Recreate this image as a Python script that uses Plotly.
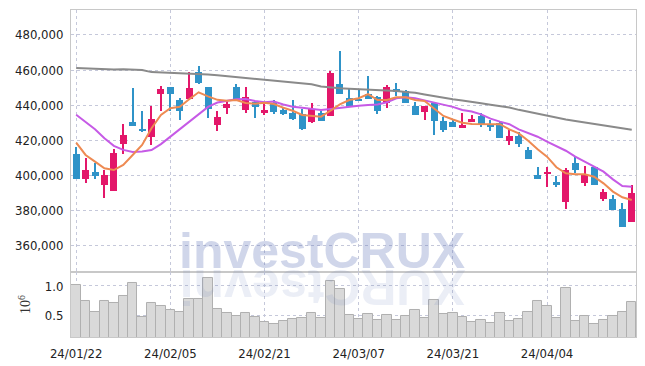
import numpy as np
import plotly.graph_objects as go

# ---------------- data ----------------
dates = ["2024-01-22", "2024-01-23", "2024-01-24", "2024-01-25", "2024-01-26",
         "2024-01-29", "2024-01-30", "2024-01-31", "2024-02-01", "2024-02-02",
         "2024-02-05", "2024-02-06", "2024-02-07", "2024-02-08", "2024-02-13",
         "2024-02-14", "2024-02-15", "2024-02-16", "2024-02-19", "2024-02-20",
         "2024-02-21", "2024-02-22", "2024-02-23", "2024-02-26", "2024-02-27",
         "2024-02-28", "2024-02-29", "2024-03-04", "2024-03-05", "2024-03-06",
         "2024-03-07", "2024-03-08", "2024-03-11", "2024-03-12", "2024-03-13",
         "2024-03-14", "2024-03-15", "2024-03-18", "2024-03-19", "2024-03-20",
         "2024-03-21", "2024-03-22", "2024-03-25", "2024-03-26", "2024-03-27",
         "2024-03-28", "2024-03-29", "2024-04-01", "2024-04-02", "2024-04-03",
         "2024-04-04", "2024-04-05", "2024-04-08", "2024-04-09", "2024-04-11",
         "2024-04-12", "2024-04-15", "2024-04-16", "2024-04-17", "2024-04-18"]

tick_dates = ["2024-01-22", "2024-02-05", "2024-02-21", "2024-03-07", "2024-03-21", "2024-04-04"]
tick_labels = ["24/01/22", "24/02/05", "24/02/21", "24/03/07", "24/03/21", "24/04/04"]

# prices in thousands of won
open_k = [412.1, 397.8, 401.7, 394.6, 391.2, 417.7, 430.4, 426.6, 422.0, 446.5,
          450.3, 442.9, 443.5, 458.7, 450.5, 428.9, 438.5, 450.3, 437.4, 441.8,
          435.5, 441.4, 437.0, 435.7, 434.9, 430.2, 435.3, 434.0, 452.3, 444.1,
          443.5, 446.2, 444.6, 441.4, 449.0, 448.0, 439.5, 436.3, 441.0, 431.0,
          430.4, 427.1, 430.3, 433.8, 429.4, 430.0, 419.7, 422.4, 414.4, 400.2,
          401.1, 396.4, 385.0, 406.8, 395.4, 404.9, 386.7, 386.3, 380.8, 373.2]
close_k = [398.1, 403.0, 399.8, 400.2, 412.5, 423.0, 428.3, 425.8, 431.9, 449.2,
           446.5, 436.8, 449.6, 452.8, 437.8, 433.2, 440.6, 442.2, 444.6, 439.0,
           437.5, 436.3, 434.9, 432.3, 426.4, 437.6, 431.1, 458.3, 446.5, 438.9,
           442.3, 443.5, 436.8, 450.3, 447.3, 441.1, 434.4, 439.5, 431.0, 425.8,
           427.7, 428.7, 432.1, 429.1, 427.7, 421.0, 422.4, 417.8, 409.3, 398.1,
           402.1, 394.2, 403.0, 403.0, 400.2, 394.6, 390.5, 380.2, 370.7, 389.7]
high_k = [416.0, 409.7, 407.2, 403.0, 414.8, 429.2, 449.6, 436.8, 439.7, 450.9,
          450.5, 443.9, 458.7, 462.5, 450.5, 436.8, 442.9, 451.9, 450.5, 442.4,
          441.0, 442.9, 438.5, 442.8, 437.6, 441.4, 436.8, 459.6, 471.0, 449.0,
          449.2, 456.6, 445.2, 451.5, 452.4, 448.6, 441.6, 439.7, 441.4, 433.1,
          432.3, 435.7, 434.5, 435.3, 431.5, 430.5, 425.8, 424.5, 416.3, 404.6,
          404.9, 399.6, 404.3, 410.6, 405.5, 405.3, 392.0, 388.6, 384.0, 394.5]
low_k = [398.1, 395.8, 397.7, 387.0, 391.2, 412.0, 428.3, 424.9, 417.1, 436.8,
         436.8, 431.5, 443.5, 451.9, 432.5, 425.1, 434.9, 442.2, 435.5, 432.7,
         434.5, 434.9, 434.2, 431.5, 425.9, 429.6, 431.1, 434.0, 446.5, 438.9,
         442.3, 443.5, 435.0, 438.5, 445.2, 441.1, 434.4, 431.5, 422.8, 424.9,
         427.5, 427.1, 430.3, 427.7, 425.4, 421.0, 417.0, 416.3, 409.3, 398.1,
         393.2, 393.2, 380.6, 401.5, 393.9, 394.6, 385.4, 380.2, 370.7, 373.2]

ma_short_k = [418.6, 411.6, 407.8, 404.0, 403.0, 405.9, 411.6, 417.3, 426.8, 434.4,
              438.2, 439.1, 443.3, 447.3, 445.0, 443.0, 442.5, 442.9, 441.2, 440.8,
              441.4, 440.6, 438.5, 436.8, 434.4, 433.8, 433.4, 436.8, 440.4, 442.9,
              443.9, 446.3, 442.9, 442.9, 444.5, 444.5, 442.9, 442.3, 438.2, 433.8,
              431.8, 430.0, 429.2, 429.1, 429.2, 429.1, 426.2, 423.9, 419.7, 414.8,
              410.6, 404.6, 401.1, 400.6, 400.6, 399.2, 395.4, 390.7, 387.5, 385.9]
ma_mid_k = [434.5, 430.6, 426.2, 421.1, 416.8, 414.5, 413.3, 413.5, 414.4, 417.8,
            422.0, 426.2, 430.3, 435.0, 439.0, 441.5, 442.3, 443.3, 443.5, 442.3,
            441.6, 442.0, 440.4, 439.1, 438.5, 437.8, 437.2, 437.8, 438.5, 439.1,
            439.7, 440.1, 440.4, 441.6, 443.9, 444.5, 443.9, 442.7, 441.6, 440.2,
            439.0, 437.2, 436.3, 434.7, 432.3, 430.6, 429.1, 426.2, 423.9, 422.0,
            419.2, 416.7, 414.0, 410.6, 407.8, 405.3, 402.1, 397.7, 393.9, 393.5]
ma_long_k = [461.2, 461.0, 460.8, 460.3, 460.3, 460.5, 460.4, 460.0, 458.8, 458.6,
             458.5, 458.3, 458.1, 458.0, 457.4, 457.0, 456.5, 456.0, 455.5, 455.2,
             454.8, 454.3, 453.8, 453.2, 452.6, 451.9, 450.6, 450.0, 449.6, 449.3,
             449.1, 448.9, 448.6, 448.3, 448.0, 447.5, 447.0, 446.0, 445.0, 444.2,
             443.3, 442.6, 442.0, 441.0, 440.2, 439.5, 438.6, 437.3, 436.2, 435.0,
             433.6, 432.6, 431.8, 431.0, 430.2, 429.4, 428.5, 427.6, 426.6, 425.9]

# volume in millions of shares
volume_m = [1.02, 0.74, 0.55, 0.75, 0.71, 0.83, 1.05, 0.46, 0.71, 0.66,
            0.59, 0.55, 0.77, 0.77, 1.13, 0.61, 0.53, 0.48, 0.53, 0.46,
            0.38, 0.34, 0.39, 0.43, 0.44, 0.53, 0.44, 1.09, 0.94, 0.50,
            0.43, 0.52, 0.41, 0.50, 0.41, 0.48, 0.59, 0.44, 0.76, 0.52,
            0.53, 0.46, 0.38, 0.41, 0.36, 0.53, 0.40, 0.43, 0.55, 0.74,
            0.65, 0.44, 0.96, 0.40, 0.49, 0.34, 0.41, 0.49, 0.55, 0.72]

# ---------------- styling ----------------
UP = "#e3176a"
DOWN = "#2f93c8"
GRID = "#c5c8da"
AXIS = "#c8c8c8"
TICKFONT = dict(family="DejaVu Sans Condensed, Liberation Sans Narrow, sans-serif",
                size=13, color="#222222")

o = np.array(open_k) * 1000
c = np.array(close_k) * 1000
h = np.array(high_k) * 1000
l = np.array(low_k) * 1000
colors = [UP if cc >= oo else DOWN for oo, cc in zip(o, c)]
body_base = np.minimum(o, c)
body_len = np.maximum(np.abs(c - o), 500)

fig = go.Figure()

# moving averages
fig.add_trace(go.Scatter(x=dates, y=np.array(ma_long_k) * 1000, mode="lines",
                         line=dict(color="#8a8a8a", width=2), hoverinfo="skip",
                         xaxis="x", yaxis="y", showlegend=False))
fig.add_trace(go.Scatter(x=dates, y=np.array(ma_mid_k) * 1000, mode="lines",
                         line=dict(color="#c65ae6", width=2), hoverinfo="skip",
                         xaxis="x", yaxis="y", showlegend=False))
fig.add_trace(go.Scatter(x=dates, y=np.array(ma_short_k) * 1000, mode="lines",
                         line=dict(color="#ee8a52", width=2), hoverinfo="skip",
                         xaxis="x", yaxis="y", showlegend=False))

# wicks
fig.add_trace(go.Bar(x=dates, y=h - l, base=l, width=0.12,
                     marker=dict(color=colors, line=dict(width=0)),
                     xaxis="x", yaxis="y", showlegend=False, hoverinfo="skip"))
# bodies
fig.add_trace(go.Bar(x=dates, y=body_len, base=body_base, width=0.74,
                     marker=dict(color=colors, line=dict(width=0)),
                     xaxis="x", yaxis="y", showlegend=False,
                     customdata=np.stack([o, h, l, c], axis=1),
                     hovertemplate="O %{customdata[0]:,.0f}<br>H %{customdata[1]:,.0f}"
                                   "<br>L %{customdata[2]:,.0f}<br>C %{customdata[3]:,.0f}<extra></extra>"))

# volume
fig.add_trace(go.Bar(x=dates, y=volume_m, width=1.0,
                     marker=dict(color="#d9d9d9", line=dict(color="#b0b0b0", width=1)),
                     xaxis="x2", yaxis="y2", showlegend=False))

split = 0.1988
xrange_ = [-0.55, 59.45]

fig.update_layout(
    width=645, height=366,
    margin=dict(l=71, r=9, t=10, b=29, autoexpand=False),
    paper_bgcolor="white", plot_bgcolor="white",
    barmode="overlay", bargap=0,
    showlegend=False,
    xaxis=dict(domain=[0, 1], anchor="y", type="category", range=xrange_,
               categoryorder="array", categoryarray=dates,
               tickvals=tick_dates, ticktext=tick_labels, showticklabels=False,
               showgrid=True, gridcolor=GRID, griddash="dot", gridwidth=1,
               showline=True, linecolor=AXIS, linewidth=1, mirror=True,
               ticks="", zeroline=False),
    yaxis=dict(domain=[split, 1], anchor="x", range=[344900, 494200],
               tickvals=[360000, 380000, 400000, 420000, 440000, 460000, 480000],
               tickformat=",d", tickfont=TICKFONT, ticklabelstandoff=4,
               showgrid=True, gridcolor=GRID, griddash="dot", gridwidth=1,
               showline=True, linecolor=AXIS, linewidth=1, mirror=True,
               ticks="", zeroline=False),
    xaxis2=dict(domain=[0, 1], anchor="y2", type="category", range=xrange_,
                categoryorder="array", categoryarray=dates, matches="x",
                tickvals=tick_dates, ticktext=tick_labels, tickfont=TICKFONT,
                tickangle=0, ticklabelstandoff=4,
                showgrid=True, gridcolor=GRID, griddash="dot", gridwidth=1,
                showline=True, linecolor=AXIS, linewidth=1, mirror=True,
                ticks="", zeroline=False),
    yaxis2=dict(domain=[0, split], anchor="x2", range=[0.121, 1.241],
                tickvals=[0.5, 1.0], tickformat=".1f", tickfont=TICKFONT,
                ticklabelstandoff=4,
                title=dict(text="10<sup>6</sup>", standoff=10,
                           font=dict(family="Liberation Serif, DejaVu Serif, serif",
                                     size=14, color="#333")),
                showgrid=True, gridcolor=GRID, griddash="dot", gridwidth=1,
                showline=True, linecolor=AXIS, linewidth=1, mirror=True,
                ticks="", zeroline=False),
    annotations=[
        dict(text="investCRUX", xref="paper", yref="paper", x=0.445, y=0.263,
             xanchor="center", yanchor="middle", showarrow=False,
             font=dict(family="Liberation Sans, Arial, sans-serif", size=50,
                       color="rgba(100,120,185,0.30)", weight="bold")),
        dict(text="XURCtsevni", xref="paper", yref="paper", x=0.445, y=0.153,
             xanchor="center", yanchor="middle", showarrow=False, textangle=180,
             font=dict(family="Liberation Sans, Arial, sans-serif", size=50,
                       color="rgba(100,120,185,0.13)", weight="bold")),
    ],
)

fig.write_html("out.html",
               config={"displayModeBar": False},
               post_script="document.body.style.margin='0';document.body.style.padding='0';")
